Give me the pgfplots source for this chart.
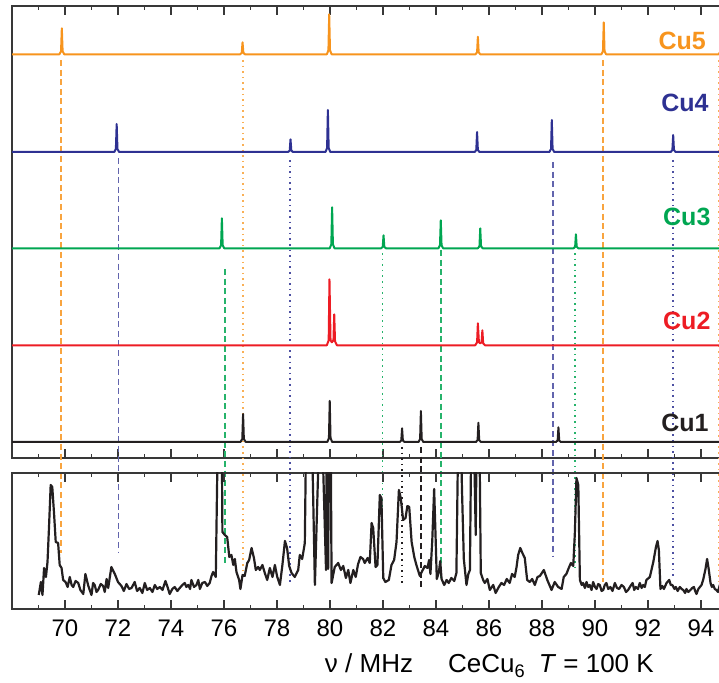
\documentclass[border=0pt]{standalone}
\usepackage{fontspec}
\setmainfont{Liberation Sans}
\usepackage{pgfplots}
\pgfplotsset{compat=1.18}
\definecolor{cuO}{HTML}{F7941D}
\definecolor{cuB}{HTML}{2E3192}
\definecolor{cuG}{HTML}{00A651}
\definecolor{cuR}{HTML}{ED1C24}
\definecolor{cuK}{HTML}{231F20}
\definecolor{frm}{HTML}{383838}
\tikzset{lab/.style={anchor=east, inner sep=0pt, font=\bfseries\fontsize{12.5}{13}\selectfont}}
\pgfplotsset{
  cuaxis/.style={
    scale only axis, width=355.1pt, xmin=68, xmax=94.8,
    xtick={70,72,...,94}, minor xtick={69,71,...,95},
    tick align=inside, major tick length=4.3pt, minor tick length=2.2pt,
    axis line style={frm, line width=0.9pt},
    every tick/.style={frm, line width=0.7pt},
    ytick=\empty, ytick pos=left, xtick pos=both,
    /pgf/number format/assume math mode=true,
    ticklabel style={font=\fontsize{12}{13}\selectfont},
  },
  dsh/.style={line width=0.95pt, dash pattern=on 3pt off 1.8pt, forget plot},
  dtt/.style={line width=0.95pt, dash pattern=on 0.8pt off 2pt, forget plot},
  spec/.style={line width=1pt, line join=round},
}
\begin{document}
\begin{tikzpicture}
\useasboundingbox (0,0) rectangle (359.5pt,341.5pt);
% ---------------- top panel: simulated spectra ----------------
\begin{axis}[cuaxis, name=top, at={(6pt,112.5pt)}, anchor=south west,
  height=226pt, ymin=0, ymax=452, clip=false, xticklabels={},
  minor ytick={16,32,...,448}]
% vertical guide lines
\addplot[cuO!85, dsh] coordinates {(69.86,398) (69.86,-95)};
\addplot[cuO!75, dtt] coordinates {(76.73,398) (76.73,-117)};
\addplot[cuO!85, dsh] coordinates {(90.29,398) (90.29,-124)};
\addplot[cuO!75, dtt] coordinates {(94.69,398) (94.69,-124)};
\addplot[cuB!75, dsh] coordinates {(72.02,300) (72.02,-95)};
\addplot[cuB!85, dtt] coordinates {(78.48,298) (78.48,-125)};
\addplot[cuB!75, dsh] coordinates {(88.43,296) (88.43,-99)};
\addplot[cuB!85, dtt] coordinates {(92.95,298) (92.95,-118)};
\addplot[cuG!85, dsh] coordinates {(76.03,189) (76.03,-107)};
\addplot[cuG!85, dtt] coordinates {(81.98,205) (81.98,-122)};
\addplot[cuG!85, dsh] coordinates {(84.20,208) (84.20,-120)};
\addplot[cuG!85, dtt] coordinates {(89.25,205) (89.25,-114)};
\addplot[cuK, dtt] coordinates {(82.72,11) (82.72,-127)};
\addplot[cuK, dsh] coordinates {(83.42,11) (83.42,-129)};
% Cu5
\addplot[cuO, spec] table[y expr=\thisrowno{1}+403.7] {
68.00 0
69.79 0
69.85 3
69.88 26
69.91 3
69.97 0
76.61 0
76.67 1.5
76.70 12
76.73 1.5
76.79 0
79.88 0
79.94 4
79.97 40
80.00 4
80.06 0
85.49 0
85.55 2
85.58 17.6
85.61 2
85.67 0
90.24 0
90.30 3
90.33 32
90.36 3
90.42 0
94.66 0
94.72 2
94.75 14
94.78 2
94.84 0
};
% Cu4
\addplot[cuB, spec] table[y expr=\thisrowno{1}+306] {
68.00 0
71.86 0
71.92 3
71.95 28
71.98 3
72.04 0
78.42 0
78.48 1.5
78.51 12.7
78.54 1.5
78.60 0
79.83 0
79.89 4
79.92 42
79.95 4
80.01 0
85.46 0
85.52 2
85.55 20
85.58 2
85.64 0
88.28 0
88.34 3
88.37 32
88.40 3
88.46 0
92.86 0
92.92 2
92.95 17
92.98 2
93.04 0
94.84 0
};
% Cu3
\addplot[cuG, spec] table[y expr=\thisrowno{1}+209.7] {
68.00 0
75.83 0
75.89 3
75.92 30
75.95 3
76.01 0
79.99 0
80.05 4
80.08 41
80.11 4
80.17 0
81.93 0
81.99 1.5
82.02 13
82.05 1.5
82.11 0
84.09 0
84.15 3
84.18 28
84.21 3
84.27 0
85.58 0
85.64 2
85.67 20
85.70 2
85.76 0
89.19 0
89.25 1.5
89.28 14
89.31 1.5
89.37 0
94.84 0
};
% Cu2
\addplot[cuR, spec] table[y expr=\thisrowno{1}+112.7] {
68.00 0
79.88 0
79.95 5
79.98 66
80.02 5
80.07 3
80.13 5
80.16 31
80.19 4
80.26 0
85.48 0
85.55 3
85.58 22
85.62 3
85.67 2
85.72 3
85.75 15
85.78 2
85.85 0
94.84 0
};
% Cu1
\addplot[cuK, spec] table[y expr=\thisrowno{1}+16] {
68.00 0
76.62 0
76.69 3
76.72 28
76.75 3
76.82 0
79.90 0
79.96 4
79.99 41
80.02 4
80.08 0
82.63 0
82.69 1.5
82.72 13.7
82.75 1.5
82.81 0
83.34 0
83.40 3
83.43 31
83.46 3
83.52 0
85.51 0
85.57 2
85.60 19.3
85.63 2
85.69 0
88.53 0
88.59 1.5
88.62 14.7
88.65 1.5
88.71 0
94.84 0
};
\node[lab, text=cuO] at (axis cs:94.20,417) {Cu5};
\node[lab, text=cuB] at (axis cs:94.30,355) {Cu4};
\node[lab, text=cuG] at (axis cs:94.37,241) {Cu3};
\node[lab, text=cuR] at (axis cs:94.37,137) {Cu2};
\node[lab, text=cuK] at (axis cs:94.30,35) {Cu1};
\end{axis}
% ---------------- bottom panel: measured spectrum ----------------
\begin{axis}[cuaxis, name=bot, at={(6pt,37pt)}, anchor=south west,
  height=68pt, ymin=0, ymax=136,
  minor ytick={12,34,56,78,100,122},
  xticklabel style={yshift=-2pt}]
\addplot[cuK, line width=1.1pt, line join=round] table {
69.01 14
69.09 27
69.15 14
69.21 41
69.28 32
69.34 47
69.40 84
69.46 124
69.52 122
69.59 94
69.65 67
69.74 66
69.80 44
69.87 41
69.93 29
70.02 27
70.10 22
70.18 32
70.25 24
70.31 22
70.40 28
70.50 26
70.58 19
70.69 15
70.77 35
70.88 23
71.00 14
71.06 26
71.12 24
71.19 17
71.25 19
71.35 25
71.44 23
71.50 17
71.57 30
71.63 21
71.75 42
71.88 35
72.00 27
72.13 23
72.22 18
72.32 25
72.42 20
72.51 21
72.63 27
72.72 18
72.82 21
72.92 16
73.01 26
73.10 19
73.20 21
73.30 17
73.39 24
73.48 20
73.58 22
73.68 19
73.79 28
73.87 22
73.95 15
74.05 20
74.14 22
74.24 18
74.33 21
74.43 24
74.52 26
74.58 22
74.65 24
74.72 20
74.77 29
74.87 22
74.96 24
75.03 29
75.09 20
75.18 26
75.28 27
75.37 23
75.46 26
75.53 33
75.59 37
75.69 32
75.78 200
75.84 200
75.91 200
75.94 77
76.03 74
76.12 72
76.20 52
76.28 54
76.35 44
76.41 50
76.47 37
76.57 29
76.62 20
76.70 34
76.78 33
76.88 46
76.95 49
77.04 61
77.13 51
77.20 39
77.29 42
77.35 39
77.45 44
77.54 36
77.63 29
77.73 41
77.83 32
77.92 44
78.01 32
78.11 24
78.20 43
78.30 68
78.38 61
78.46 43
78.55 36
78.67 32
78.80 39
78.86 54
78.95 50
79.05 66
79.11 200
79.21 200
79.30 200
79.43 24
79.62 200
79.68 200
79.85 39
79.88 200
79.93 40
79.97 200
80.02 200
80.06 26
80.18 42
80.31 46
80.41 39
80.50 43
80.60 31
80.69 39
80.77 26
80.88 39
80.97 32
81.06 45
81.15 52
81.25 50
81.31 46
81.42 51
81.50 46
81.57 86
81.63 81
81.72 42
81.79 44
81.88 114
81.94 111
82.01 31
82.09 27
82.22 29
82.32 44
82.42 49
82.51 67
82.60 119
82.67 111
82.76 89
82.85 91
82.92 103
82.99 102
83.08 67
83.18 52
83.26 44
83.39 33
83.48 38
83.58 43
83.68 41
83.74 49
83.79 35
83.86 69
83.93 120
83.98 76
84.03 30
84.11 37
84.16 48
84.21 30
84.31 24
84.40 29
84.48 26
84.58 31
84.69 28
84.77 36
84.85 200
84.92 200
84.98 120
85.05 50
85.15 24
85.22 35
85.28 39
85.34 200
85.41 200
85.50 74
85.54 200
85.63 200
85.69 36
85.78 29
85.84 26
85.94 30
86.03 19
86.16 24
86.25 16
86.37 22
86.47 26
86.57 24
86.67 30
86.78 26
86.87 35
86.97 32
87.04 42
87.10 54
87.18 61
87.26 56
87.35 51
87.44 29
87.54 27
87.63 30
87.73 24
87.83 32
87.92 33
88.07 39
88.20 29
88.36 19
88.48 27
88.61 22
88.74 20
88.82 32
88.92 35
89.01 41
89.09 46
89.18 43
89.24 76
89.30 131
89.37 124
89.43 29
89.50 24
89.55 26
89.62 21
89.68 27
89.74 22
89.80 24
89.87 19
89.93 27
90.00 22
90.06 20
90.12 25
90.18 24
90.25 18
90.31 19
90.37 24
90.43 26
90.50 20
90.58 22
90.66 18
90.75 26
90.83 21
90.91 20
91.00 24
91.09 22
91.17 17
91.25 19
91.34 23
91.42 26
91.48 19
91.54 22
91.62 20
91.69 26
91.76 21
91.82 24
91.88 22
91.94 29
92.07 32
92.20 47
92.30 62
92.36 68
92.41 59
92.47 20
92.54 23
92.60 20
92.70 26
92.80 29
92.86 24
92.92 24
93.00 20
93.05 22
93.12 18
93.20 22
93.27 20
93.33 19
93.40 16
93.45 20
93.52 17
93.60 19
93.67 21
93.73 22
93.78 18
93.83 15
93.90 20
93.96 22
94.02 24
94.08 29
94.17 40
94.23 50
94.29 40
94.36 26
94.41 22
94.46 24
94.52 20
94.58 19
94.64 17
94.71 24
};
\end{axis}
\node[anchor=base, font=\fontsize{13}{14}\selectfont] at (184.5pt,5pt) {ν / MHz};
\node[anchor=base, font=\fontsize{13}{14}\selectfont] at (275.5pt,5pt) {CeCu\textsubscript{6}\enspace\textit{T} = 100 K};
\end{tikzpicture}
\end{document}
